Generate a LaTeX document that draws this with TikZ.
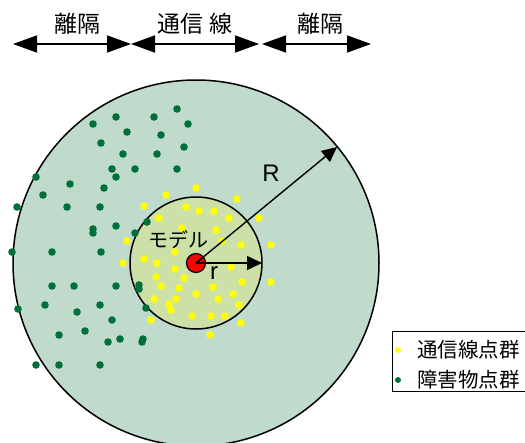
\documentclass[tikz,border=0pt]{standalone}
\usepackage{fontspec}
\setmainfont{Liberation Sans}
\newfontfamily\jp{Noto Sans CJK JP}
\usetikzlibrary{arrows.meta}
\definecolor{outerfill}{RGB}{192,218,204}
\definecolor{innerfill}{RGB}{204,224,168}
\definecolor{obst}{RGB}{0,112,58}
\definecolor{comm}{RGB}{255,255,0}
\tikzset{
  bigarrow/.style={line width=1.6pt,{Triangle[length=24pt,width=17pt]}-{Triangle[length=24pt,width=17pt]}},
  radarrow/.style={line width=1.4pt,-{Triangle[length=15pt,width=14pt]}},
  toplabel/.style={font=\jp\fontsize{23}{23}\selectfont,inner sep=0pt},
  greendot/.style={fill=obst},
  yellowdot/.style={fill=comm},
  legtext/.style={font=\jp\fontsize{20.5}{20.5}\selectfont,anchor=west,inner sep=0pt},
}
\begin{document}
\begin{tikzpicture}[x=1pt,y=-1pt]
\useasboundingbox (0,0) rectangle (525,442);
% circles
\coordinate (c) at (196,263);
\node[circle,draw=black,line width=1.5pt,fill=outerfill,minimum size=366pt,inner sep=0pt] (outer) at (c) {};
\node[circle,draw=black,line width=1.5pt,fill=innerfill,minimum size=132pt,inner sep=0pt] (inner) at (c) {};
% obstacle points
\foreach \p in {(177,109),(116,117),(154,117),(93,124),(188,124),(127,132),(161,135),(101,143),(184,147),(123,154),(157,154),(112,169),(135,169),(177,169),(116,177),(36,177),(70,184),(104,188),(43,195),(17,207),(67,207),(100,207),(93,229),(93,233),(116,226),(135,233),(147,222),(12,252),(52,252),(101,252),(52,286),(74,286),(116,286),(139,285),(139,289),(18,309),(45,305),(100,305),(77,312),(146,308),(112,320),(59,335),(85,331),(108,342),(120,339),(143,339),(142,342),(36,365),(59,365),(100,365)}
  \fill[greendot] \p circle (3.8pt);
% communication points
\foreach \p in {(196,188),(166,195),(237,199),(144,206),(186,207),(199,211),(214,211),(159,218),(229,218),(259,218),(182,228),(216,230),(127,241),(222,241),(241,245),(271,245),(175,252),(123,263),(144,259),(157,263),(231,267),(175,269),(156,277),(184,278),(242,282),(271,282),(161,286),(179,288),(213,287),(196,294),(233,294),(154,299),(176,299),(218,299),(169,304),(171,310),(239,305),(192,316),(211,316),(225,316),(151,320),(241,323),(210,335)}
  \fill[yellowdot] \p circle (3.8pt);
% model
\node[circle,draw=black,line width=1.2pt,fill=red,minimum size=19pt,inner sep=0pt] (model) at (c) {};
\coordinate (Rend) at (337,147);
\coordinate (rend) at (262,263);
\draw[radarrow] (model.center) -- (Rend);
\draw[radarrow] (model.center) -- (rend);
\node[font=\fontsize{24}{24}\selectfont,inner sep=0pt] (Rlab) at (271,173) {R};
\node[font=\fontsize{24}{24}\selectfont,inner sep=0pt] (rlab) at (214,273) {r};
\node[font=\jp\fontsize{20}{20}\selectfont,inner sep=0pt] (mlab) at (178,240) {モデル};
% top arrows
\coordinate (t0) at (13,44);
\coordinate (t1) at (131,44);
\coordinate (t2) at (259,44);
\coordinate (t3) at (262,44);
\coordinate (t4) at (371,44);
\draw[bigarrow] (t0) -- (t1);
\draw[bigarrow] (t1) -- (t2);
\draw[bigarrow] (t3) -- (t4);
\node[toplabel] (l1) at (77,24) {離隔};
\node[toplabel] (l2) at (195,24) {通信\hspace{0.25em}線};
\node[toplabel] (l3) at (320,24) {離隔};
% legend
\draw[line width=1pt] (530,331) -- (392,331) -- (392,391) -- (530,391);
\fill[yellowdot] (398,350) circle (3pt);
\fill[greendot] (398,380) circle (3pt);
\node[legtext] (lg1) at (417,350) {通信線点群};
\node[legtext] (lg2) at (417,380) {障害物点群};
\end{tikzpicture}
\end{document}
